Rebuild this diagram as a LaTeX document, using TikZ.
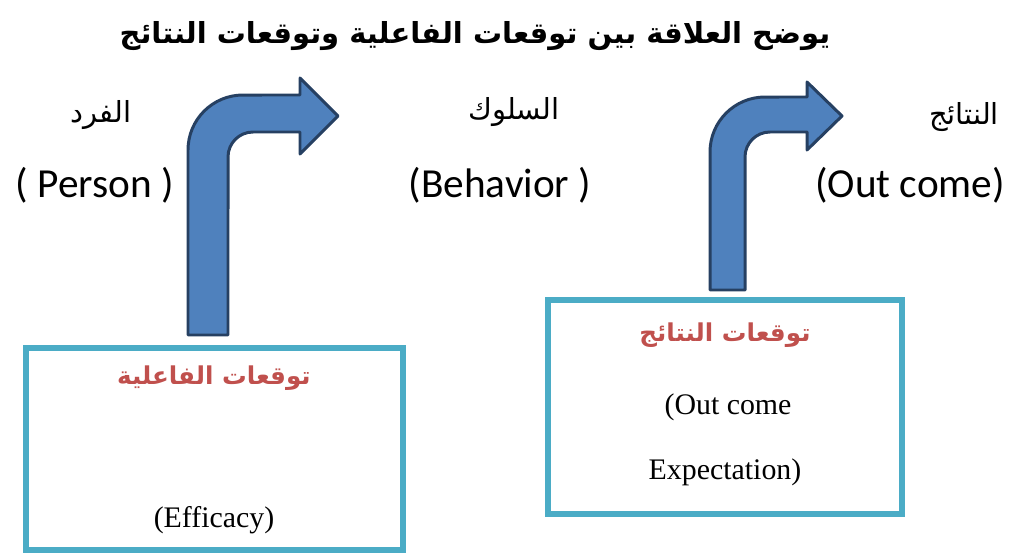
\documentclass[tikz,border=0pt]{standalone}
\usepackage{fontspec}
\setmainfont{Liberation Serif}
\newfontfamily\calibri{Carlito}
\newfontfamily\arabicfont[Script=Arabic]{DejaVu Sans}
\TeXXeTstate=1
\definecolor{arrowfill}{RGB}{79,129,189}
\definecolor{arrowline}{RGB}{38,64,98}
\definecolor{boxline}{RGB}{75,172,198}
\definecolor{boxred}{RGB}{192,80,77}

\begin{document}
\begin{tikzpicture}[
  x=0.02cm,y=-0.02cm,
  title/.style={font=\arabicfont\bfseries\fontsize{16.5}{20}\selectfont},
  arlabel/.style={font=\arabicfont\fontsize{16.5}{20}\selectfont},
  enlabel/.style={font=\calibri\fontsize{23.5}{28}\selectfont},
  framebox/.style={draw=boxline, line width=3.1pt},
  redtext/.style={text=boxred, font=\arabicfont\bfseries\fontsize{14}{17}\selectfont},
  boxtext/.style={font=\fontsize{17}{20}\selectfont},
  blockarrow/.style={draw=arrowline, fill=arrowfill, line width=1.7pt, line join=round}
]
\useasboundingbox (0,0) rectangle (1014,554);

\node[title] (title) at (475,36) {\beginR يوضح العلاقة بين توقعات الفاعلية وتوقعات النتائج\endR};

% labels along the top
\node[arlabel] (personar) at (101,115) {\beginR الفرد\endR};
\node[enlabel] (person) at (95,185) {( Person )};
\node[arlabel] (behaviorar) at (514,112) {\beginR السلوك\endR};
\node[enlabel] (behavior) at (500,185) {(Behavior )};
\node[arlabel] (outcomear) at (964,117) {\beginR النتائج\endR};
\node[enlabel] (outcome) at (910,185) {(Out come)};

% the two boxes
\draw[framebox] (26,348) rectangle (403,550);
\node[redtext] (efficacyar) at (214,378) {\beginR توقعات الفاعلية\endR};
\node[boxtext] (efficacy) at (214,520) {(Efficacy)};

\draw[framebox] (548,300) rectangle (902,514);
\node[redtext] (expectar) at (725,335) {\beginR توقعات النتائج\endR};
\node[boxtext] (expect1) at (728,407) {(Out come};
\node[boxtext] (expect2) at (725,472) {Expectation)};

% bent arrows
\draw[blockarrow] (188,335) -- (188,150) arc[start angle=180, end angle=90, radius=1.1cm]
  -- (300,95) -- (300,78) -- (338,116) -- (300,154) -- (300,132) -- (253,132)
  arc[start angle=90, end angle=180, radius=0.5cm] -- (228,335) -- cycle;
\draw[blockarrow] (710,290) -- (710,152) arc[start angle=180, end angle=90, radius=1.1cm]
  -- (807,97) -- (807,82) -- (842,116) -- (807,150) -- (807,132) -- (770,132)
  arc[start angle=90, end angle=180, radius=0.5cm] -- (745,290) -- cycle;
\end{tikzpicture}
\end{document}
